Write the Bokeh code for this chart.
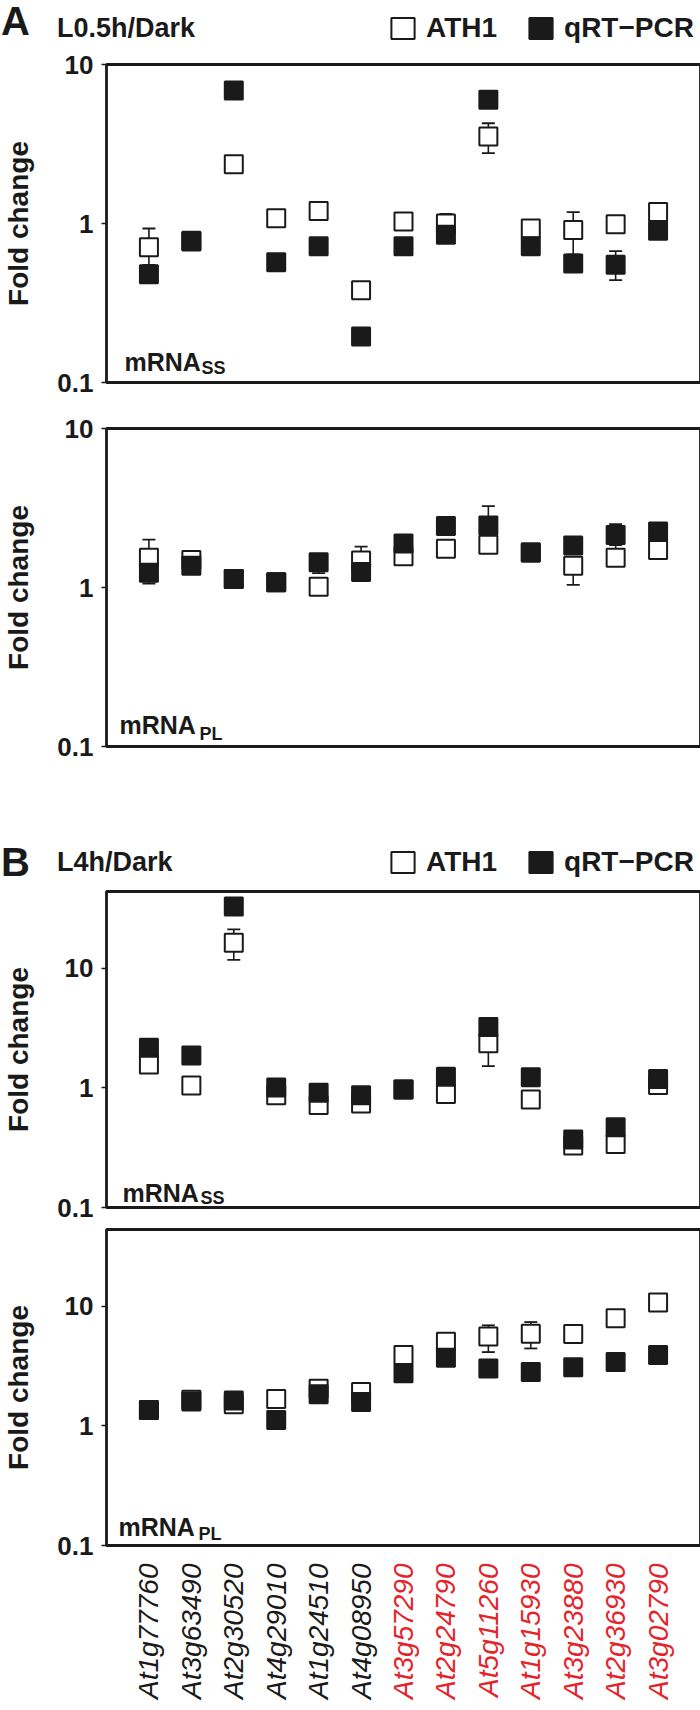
import numpy as np
from bokeh.plotting import figure
from bokeh.layouts import column
from bokeh.models import (Range1d, FixedTicker, Label, Legend, LegendItem, ColumnDataSource)
from bokeh.embed import file_html
from bokeh.resources import INLINE
from bokeh.core.properties import value

# ---------------- data ----------------
genes = ["At1g77760", "At3g63490", "At2g30520", "At4g29010", "At1g24510", "At4g08950",
         "At3g57290", "At2g24790", "At5g11260", "At1g15930", "At3g23880", "At2g36930", "At3g02790"]
gene_group = ["black"] * 6 + ["red"] * 7
y_ticks = [0.1, 1, 10]
y_tick_labels = ["0.1", "1", "10"]
series_names = ["ATH1", "qRT\u2212PCR"]

# A, mRNA_SS (L0.5h/Dark)
a_ss_ath1    = [0.71, 0.78, 2.36, 1.08, 1.20, 0.38, 1.03, 1.00, 3.52, 0.93, 0.91, 0.99, 1.18]
a_ss_ath1_lo = [0.55, 0.78, 2.36, 1.08, 1.20, 0.38, 1.03, 1.00, 2.77, 0.93, 0.64, 0.99, 1.18]
a_ss_ath1_hi = [0.93, 0.78, 2.36, 1.08, 1.20, 0.38, 1.03, 1.15, 4.27, 0.93, 1.18, 0.99, 1.18]
a_ss_qpcr    = [0.48, 0.77, 6.86, 0.57, 0.72, 0.195, 0.72, 0.85, 6.00, 0.72, 0.56, 0.55, 0.90]
a_ss_qpcr_lo = [0.48, 0.77, 6.86, 0.57, 0.72, 0.195, 0.72, 0.85, 6.00, 0.72, 0.56, 0.44, 0.90]
a_ss_qpcr_hi = [0.48, 0.77, 6.86, 0.57, 0.72, 0.195, 0.72, 0.85, 6.00, 0.72, 0.56, 0.67, 0.90]

# A, mRNA_PL (L0.5h/Dark)
a_pl_ath1    = [1.54, 1.49, 1.13, 1.08, 1.01, 1.48, 1.57, 1.75, 1.86, 1.66, 1.37, 1.54, 1.72]
a_pl_ath1_lo = [1.54, 1.49, 1.13, 1.08, 1.01, 1.48, 1.57, 1.75, 1.86, 1.66, 1.04, 1.54, 1.72]
a_pl_ath1_hi = [2.00, 1.70, 1.13, 1.08, 1.01, 1.81, 1.57, 1.75, 1.86, 1.66, 1.37, 1.85, 1.72]
a_pl_qpcr    = [1.24, 1.37, 1.13, 1.08, 1.44, 1.25, 1.89, 2.44, 2.45, 1.66, 1.84, 2.14, 2.25]
a_pl_qpcr_lo = [1.06, 1.37, 1.13, 1.08, 1.23, 1.25, 1.89, 2.44, 2.45, 1.66, 1.84, 2.14, 2.25]
a_pl_qpcr_hi = [1.24, 1.37, 1.13, 1.08, 1.44, 1.25, 1.89, 2.44, 3.25, 1.66, 1.84, 2.50, 2.25]

# B, mRNA_SS (L4h/Dark)
b_ss_ath1    = [1.57, 1.05, 16.4, 0.87, 0.72, 0.74, 0.97, 0.89, 2.37, 0.80, 0.33, 0.34, 1.06]
b_ss_ath1_lo = [1.57, 1.05, 11.8, 0.87, 0.72, 0.74, 0.97, 0.89, 1.52, 0.80, 0.33, 0.34, 1.06]
b_ss_ath1_hi = [1.57, 1.05, 21.2, 0.87, 0.72, 0.74, 0.97, 0.89, 2.37, 0.80, 0.33, 0.34, 1.06]
b_ss_qpcr    = [2.17, 1.87, 33.0, 1.01, 0.91, 0.87, 0.97, 1.24, 3.23, 1.23, 0.37, 0.47, 1.19]
b_ss_qpcr_lo = b_ss_qpcr
b_ss_qpcr_hi = b_ss_qpcr

# B, mRNA_PL (L4h/Dark)
b_pl_ath1    = [1.36, 1.66, 1.52, 1.68, 2.05, 1.92, 3.92, 5.07, 5.59, 5.92, 5.89, 7.97, 10.8]
b_pl_ath1_lo = [1.36, 1.66, 1.52, 1.68, 2.05, 1.92, 3.92, 5.07, 4.15, 4.45, 5.89, 7.97, 10.8]
b_pl_ath1_hi = [1.36, 1.66, 1.52, 1.68, 2.20, 1.92, 3.92, 5.07, 6.95, 7.40, 5.89, 7.97, 10.8]
b_pl_qpcr    = [1.36, 1.60, 1.63, 1.12, 1.84, 1.59, 2.76, 3.72, 3.02, 2.83, 3.10, 3.42, 3.92]
b_pl_qpcr_lo = b_pl_qpcr
b_pl_qpcr_hi = b_pl_qpcr

# ---------------- style ----------------
FONT = "Liberation Sans"
INK = "#1a1a1a"
RED = "#e5232a"
LEFT, RIGHT = 103, 3
FW = 594
W = LEFT + FW + RIGHT
xpos = list(range(1, len(genes) + 1))


def txt(x, y, text, size, style="bold", color=INK):
    return Label(x=x, y=y, x_units="screen", y_units="screen", text=text,
                 text_font=FONT, text_font_size=size, text_font_style=style,
                 text_color=color, text_baseline="alphabetic")


def plain_legend(p, proxy, text, size, x, y):
    return Legend(items=[LegendItem(label=text, renderers=[proxy])], location=(x, y),
                  glyph_width=0, glyph_height=10, label_standoff=0, padding=0, margin=0,
                  border_line_color=None, background_fill_alpha=0,
                  label_text_font=FONT, label_text_font_size=size, label_text_font_style="bold",
                  label_text_color=INK)


def header(letter, cond, h, letter_y, cond_y, leg_y):
    p = figure(frame_width=W, frame_height=h, x_range=Range1d(0, W), y_range=Range1d(0, h),
               x_axis_location=None, y_axis_location=None,
               min_border_left=0, min_border_right=0, min_border_top=0, min_border_bottom=0,
               output_backend="svg", toolbar_location=None, outline_line_color=None)
    p.grid.visible = False
    # legend proxies (outside the visible ranges, so only their legend swatches show)
    proxy = ColumnDataSource(dict(l=[-30], r=[-20], t=[-20], b=[-30]))
    r_none = p.quad(left="l", right="r", top="t", bottom="b", source=proxy,
                    fill_alpha=0, line_alpha=0)
    r_open = p.quad(left="l", right="r", top="t", bottom="b", source=proxy,
                    fill_color="white", line_color=INK, line_width=2)
    r_fill = p.quad(left="l", right="r", top="t", bottom="b", source=proxy,
                    fill_color=INK, line_color=INK, line_width=2)
    p.add_layout(plain_legend(p, r_none, letter, "40px", 1, letter_y))
    p.add_layout(plain_legend(p, r_none, cond, "27px", 57, cond_y))
    leg = Legend(items=[LegendItem(label=series_names[0], renderers=[r_open]),
                        LegendItem(label=series_names[1], renderers=[r_fill])],
                 location=(388, leg_y), orientation="horizontal",
                 glyph_width=29, glyph_height=26, label_height=26, label_standoff=9, spacing=29,
                 padding=0, margin=0, border_line_color=None, background_fill_alpha=0,
                 label_text_font=FONT, label_text_font_size="28px", label_text_font_style="bold",
                 label_text_color=INK)
    p.add_layout(leg)
    return p


def panel(ath, ath_lo, ath_hi, q, q_lo, q_hi, y_end, fh, top, bottom,
          main, sub, mx, mb, sx, sb):
    p = figure(frame_width=FW, frame_height=fh, x_range=Range1d(0, len(genes) + 1),
               y_range=Range1d(0.1, y_end), y_axis_type="log", x_axis_location=None,
               min_border_left=LEFT, min_border_right=RIGHT, min_border_top=top, min_border_bottom=bottom,
               output_backend="svg", toolbar_location=None)
    p.grid.visible = False
    p.outline_line_color = INK
    p.outline_line_width = 2.8
    ax = p.yaxis[0]
    ax.ticker = FixedTicker(ticks=y_ticks)
    ax.major_label_overrides = dict(zip(y_ticks, y_tick_labels))
    ax.minor_tick_line_color = None
    ax.axis_line_color = None
    ax.major_tick_out = 5
    ax.major_tick_in = 0
    ax.major_tick_line_width = 1.5
    ax.major_tick_line_color = INK
    ax.major_label_standoff = 8
    ax.major_label_text_font = FONT
    ax.major_label_text_font_size = "26px"
    ax.major_label_text_font_style = "bold"
    ax.major_label_text_color = INK
    ax.axis_label = "Fold change"
    ax.axis_label_text_font = FONT
    ax.axis_label_text_font_size = "28px"
    ax.axis_label_text_font_style = "bold"
    ax.axis_label_text_color = INK
    ax.axis_label_standoff = 20

    src = ColumnDataSource(dict(x=xpos, ath=ath, ath_lo=ath_lo, ath_hi=ath_hi, q=q, q_lo=q_lo, q_hi=q_hi))
    # ATH1 error bars and markers
    p.segment(x0="x", y0="ath_lo", x1="x", y1="ath_hi", source=src, line_color=INK, line_width=1.6)
    p.scatter("x", "ath_hi", source=src, marker="dash", size=13, line_color=INK, line_width=1.8)
    p.scatter("x", "ath_lo", source=src, marker="dash", size=13, line_color=INK, line_width=1.8)
    p.scatter("x", "ath", source=src, marker="square", size=18, fill_color="white",
              line_color=INK, line_width=2)
    # qRT-PCR error bars and markers
    p.segment(x0="x", y0="q_lo", x1="x", y1="q_hi", source=src, line_color=INK, line_width=1.6)
    p.scatter("x", "q_hi", source=src, marker="dash", size=13, line_color=INK, line_width=1.8)
    p.scatter("x", "q_lo", source=src, marker="dash", size=13, line_color=INK, line_width=1.8)
    p.scatter("x", "q", source=src, marker="square", size=18, fill_color=INK,
              line_color=INK, line_width=2)

    p.add_layout(txt(mx, mb, main, "25px"))
    p.add_layout(txt(sx, sb, sub, "18px"))
    return p


def gene_labels(h, top_gap):
    p = figure(frame_width=FW, frame_height=h, x_range=Range1d(0, len(genes) + 1), y_range=Range1d(0, h),
               x_axis_location=None, y_axis_location=None,
               min_border_left=LEFT, min_border_right=RIGHT, min_border_top=0, min_border_bottom=0,
               output_backend="svg", toolbar_location=None, outline_line_color=None)
    p.grid.visible = False
    colors = [INK if g == "black" else RED for g in gene_group]
    src = ColumnDataSource(dict(x=xpos, y=[h - top_gap] * len(genes), t=genes, c=colors))
    p.text(x="x", y="y", text="t", source=src, angle=np.pi / 2, text_align="right",
           text_baseline="middle", text_color="c", text_font=value(FONT),
           text_font_size="28px", text_font_style="italic")
    return p


hA = header("A", "L0.5h/Dark", 48, 4, 4, 4)
pA1 = panel(a_ss_ath1, a_ss_ath1_lo, a_ss_ath1_hi, a_ss_qpcr, a_ss_qpcr_lo, a_ss_qpcr_hi,
            10, 318, 16, 23, "mRNA", "SS", 18, 21, 95, 15)
pA2 = panel(a_pl_ath1, a_pl_ath1_lo, a_pl_ath1_hi, a_pl_qpcr, a_pl_qpcr_lo, a_pl_qpcr_hi,
            10, 318, 23, 92, "mRNA", "PL", 13, 22, 93, 13)
hB = header("B", "L4h/Dark", 49, 2, 9, 9)
pB1 = panel(b_ss_ath1, b_ss_ath1_lo, b_ss_ath1_hi, b_ss_qpcr, b_ss_qpcr_lo, b_ss_qpcr_hi,
            44, 316, 4, 17, "mRNA", "SS", 16, 15, 94, 10)
pB2 = panel(b_pl_ath1, b_pl_ath1_lo, b_pl_ath1_hi, b_pl_qpcr, b_pl_qpcr_lo, b_pl_qpcr_hi,
            44, 316, 5, 17, "mRNA", "PL", 12, 19, 92, 12)
labs = gene_labels(140, 1)

layout = column(hA, pA1, pA2, hB, pB1, pB2, labs, spacing=0)
open("out.html", "w").write(file_html(layout, INLINE))
